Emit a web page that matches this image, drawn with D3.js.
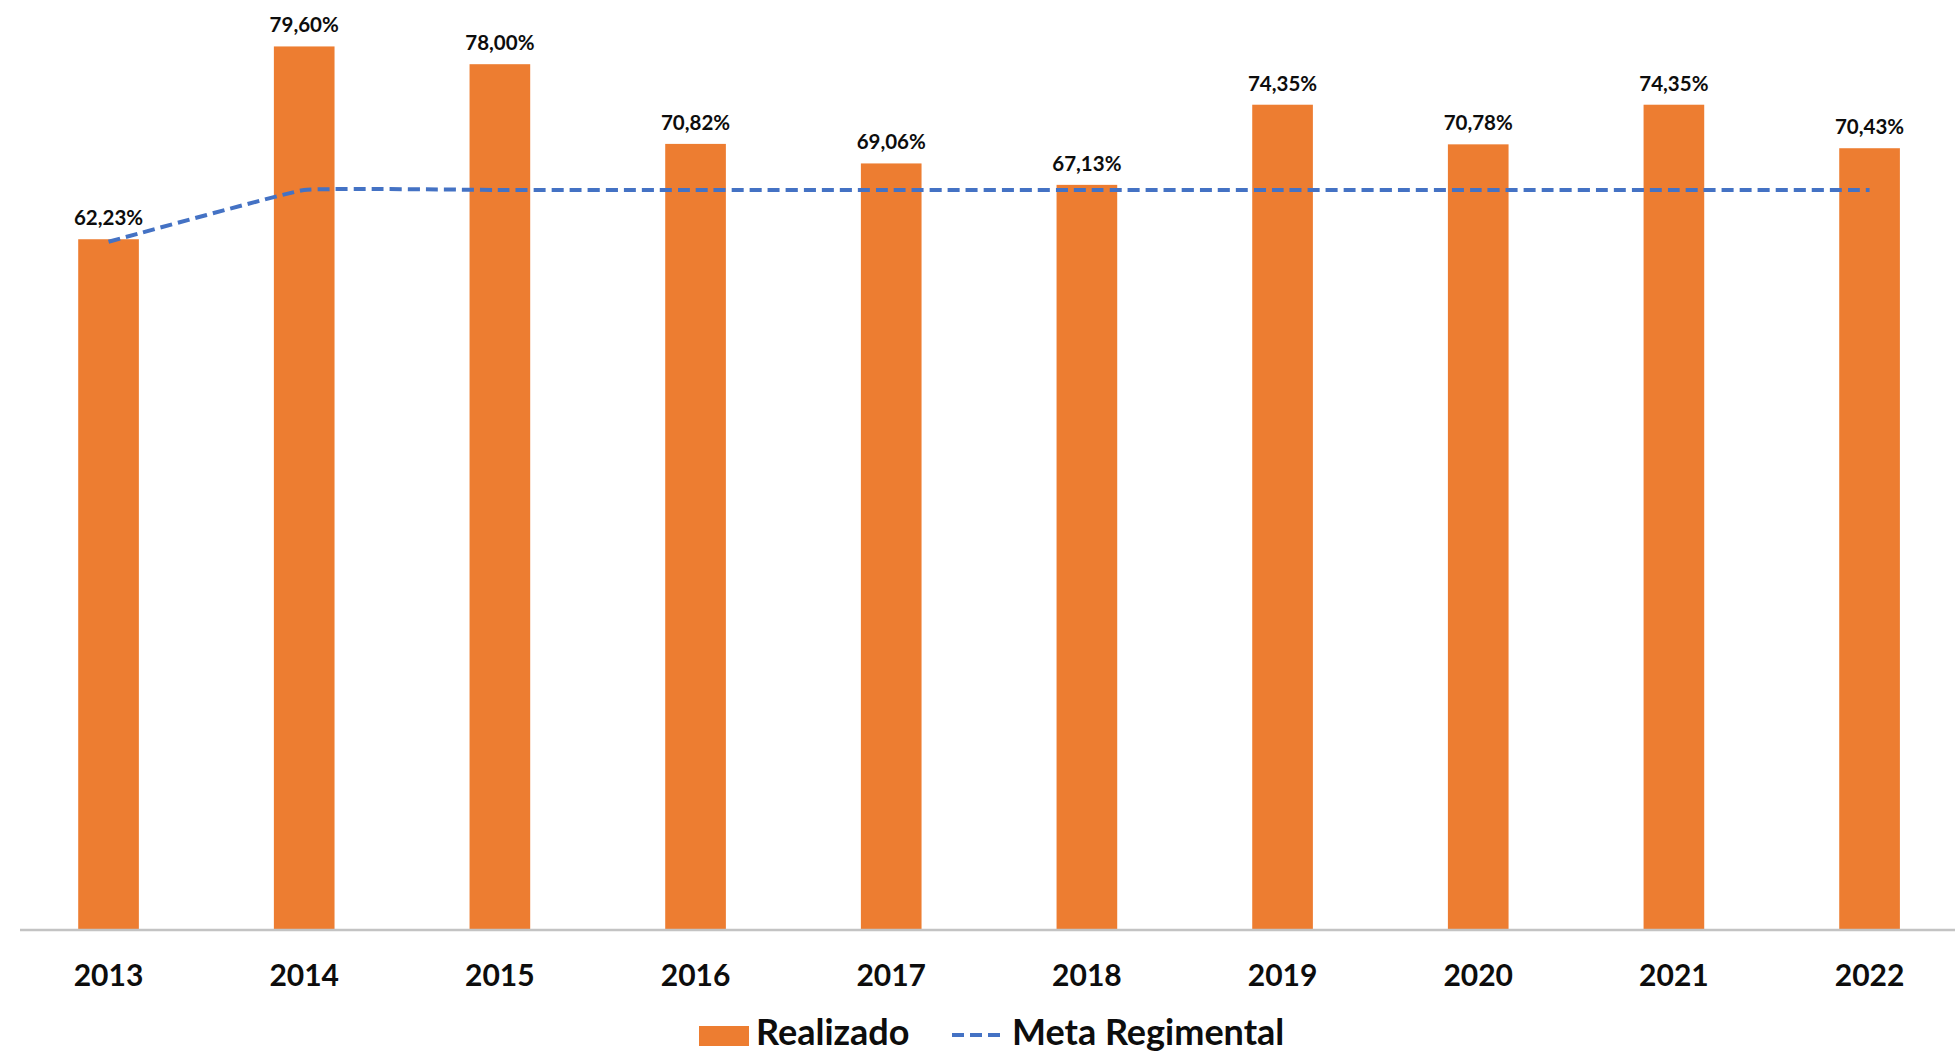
<!DOCTYPE html>
<html>
<head>
<meta charset="utf-8">
<script src="https://cdn.jsdelivr.net/npm/d3@7"></script>
<style>
  body { margin: 0; background: #fff; }
  text { font-family: Lato, "Open Sans", sans-serif; font-weight: bold; fill: #0d0d0d; }
</style>
</head>
<body>
<div id="chart"></div>
<script>
// data
var years = ["2013","2014","2015","2016","2017","2018","2019","2020","2021","2022"]
var realizado = [62.23, 79.60, 78.00, 70.82, 69.06, 67.13, 74.35, 70.78, 74.35, 70.43]
var meta = [62.0, 66.67, 66.67, 66.67, 66.67, 66.67, 66.67, 66.67, 66.67, 66.67]
var legendNames = ["Realizado", "Meta Regimental"]

var width = 1955,
    height = 1056
var baseY = 930 // x axis position

var svg = d3.select("#chart")
    .append("svg")
    .attr("width", width)
    .attr("height", height)

var x = d3.scaleBand()
    .domain(years)
    .range([10.7, 1967.4])
    .paddingInner(0.69)
    .paddingOuter(0.345)

var y = d3.scaleLinear()
    .domain([0, 80])
    .range([baseY, baseY - 888])

var pt = d3.formatLocale({decimal: ",", thousands: ".", grouping: [3], currency: ["R$", ""]})
var fmt = pt.format(".2f")

// bars
svg.selectAll(".bar")
    .data(years)
    .enter()
    .append("rect")
    .attr("class", "bar")
    .attr("x", function(d){ return x(d) })
    .attr("y", function(d,i){ return y(realizado[i]) })
    .attr("width", x.bandwidth())
    .attr("height", function(d,i){ return baseY - y(realizado[i]) })
    .attr("fill", "#ED7D31")

// axis line
svg.append("line")
    .attr("x1", 20).attr("x2", width)
    .attr("y1", baseY).attr("y2", baseY)
    .attr("stroke", "#c3c3c3")
    .attr("stroke-width", 2.5)

// year labels
svg.selectAll(".year")
    .data(years)
    .enter()
    .append("text")
    .attr("class", "year")
    .attr("x", function(d){ return x(d) + x.bandwidth()/2 })
    .attr("y", 986)
    .attr("text-anchor", "middle")
    .style("font-size", "30px")
    .text(function(d){ return d })

// meta line (smoothed, dashed)
var line = d3.line()
    .x(function(d,i){ return x(years[i]) + x.bandwidth()/2 })
    .y(function(d){ return y(d) })
    .curve(d3.curveCardinal.tension(0.75))

svg.append("path")
    .attr("d", line(meta))
    .attr("fill", "none")
    .attr("stroke", "#4472C4")
    .attr("stroke-width", 4)
    .attr("stroke-dasharray", "12,6")

// value labels
svg.selectAll(".val")
    .data(years)
    .enter()
    .append("text")
    .attr("class", "val")
    .attr("x", function(d){ return x(d) + x.bandwidth()/2 })
    .attr("y", function(d,i){ return y(realizado[i]) - 14 })
    .attr("text-anchor", "middle")
    .style("font-size", "20.5px")
    .text(function(d,i){ return fmt(realizado[i]) + "%" })

// legend
var lg = svg.append("g")
lg.append("rect")
    .attr("x", 699).attr("y", 1026)
    .attr("width", 50).attr("height", 20)
    .attr("fill", "#ED7D31")
lg.append("text")
    .attr("x", 756).attr("y", 1045)
    .style("font-size", "36px")
    .text(legendNames[0])
lg.append("line")
    .attr("x1", 952).attr("x2", 1000)
    .attr("y1", 1035).attr("y2", 1035)
    .attr("stroke", "#4472C4")
    .attr("stroke-width", 4)
    .attr("stroke-dasharray", "12,6")
lg.append("text")
    .attr("x", 1012).attr("y", 1045)
    .style("font-size", "36px")
    .text(legendNames[1])
</script>
</body>
</html>
